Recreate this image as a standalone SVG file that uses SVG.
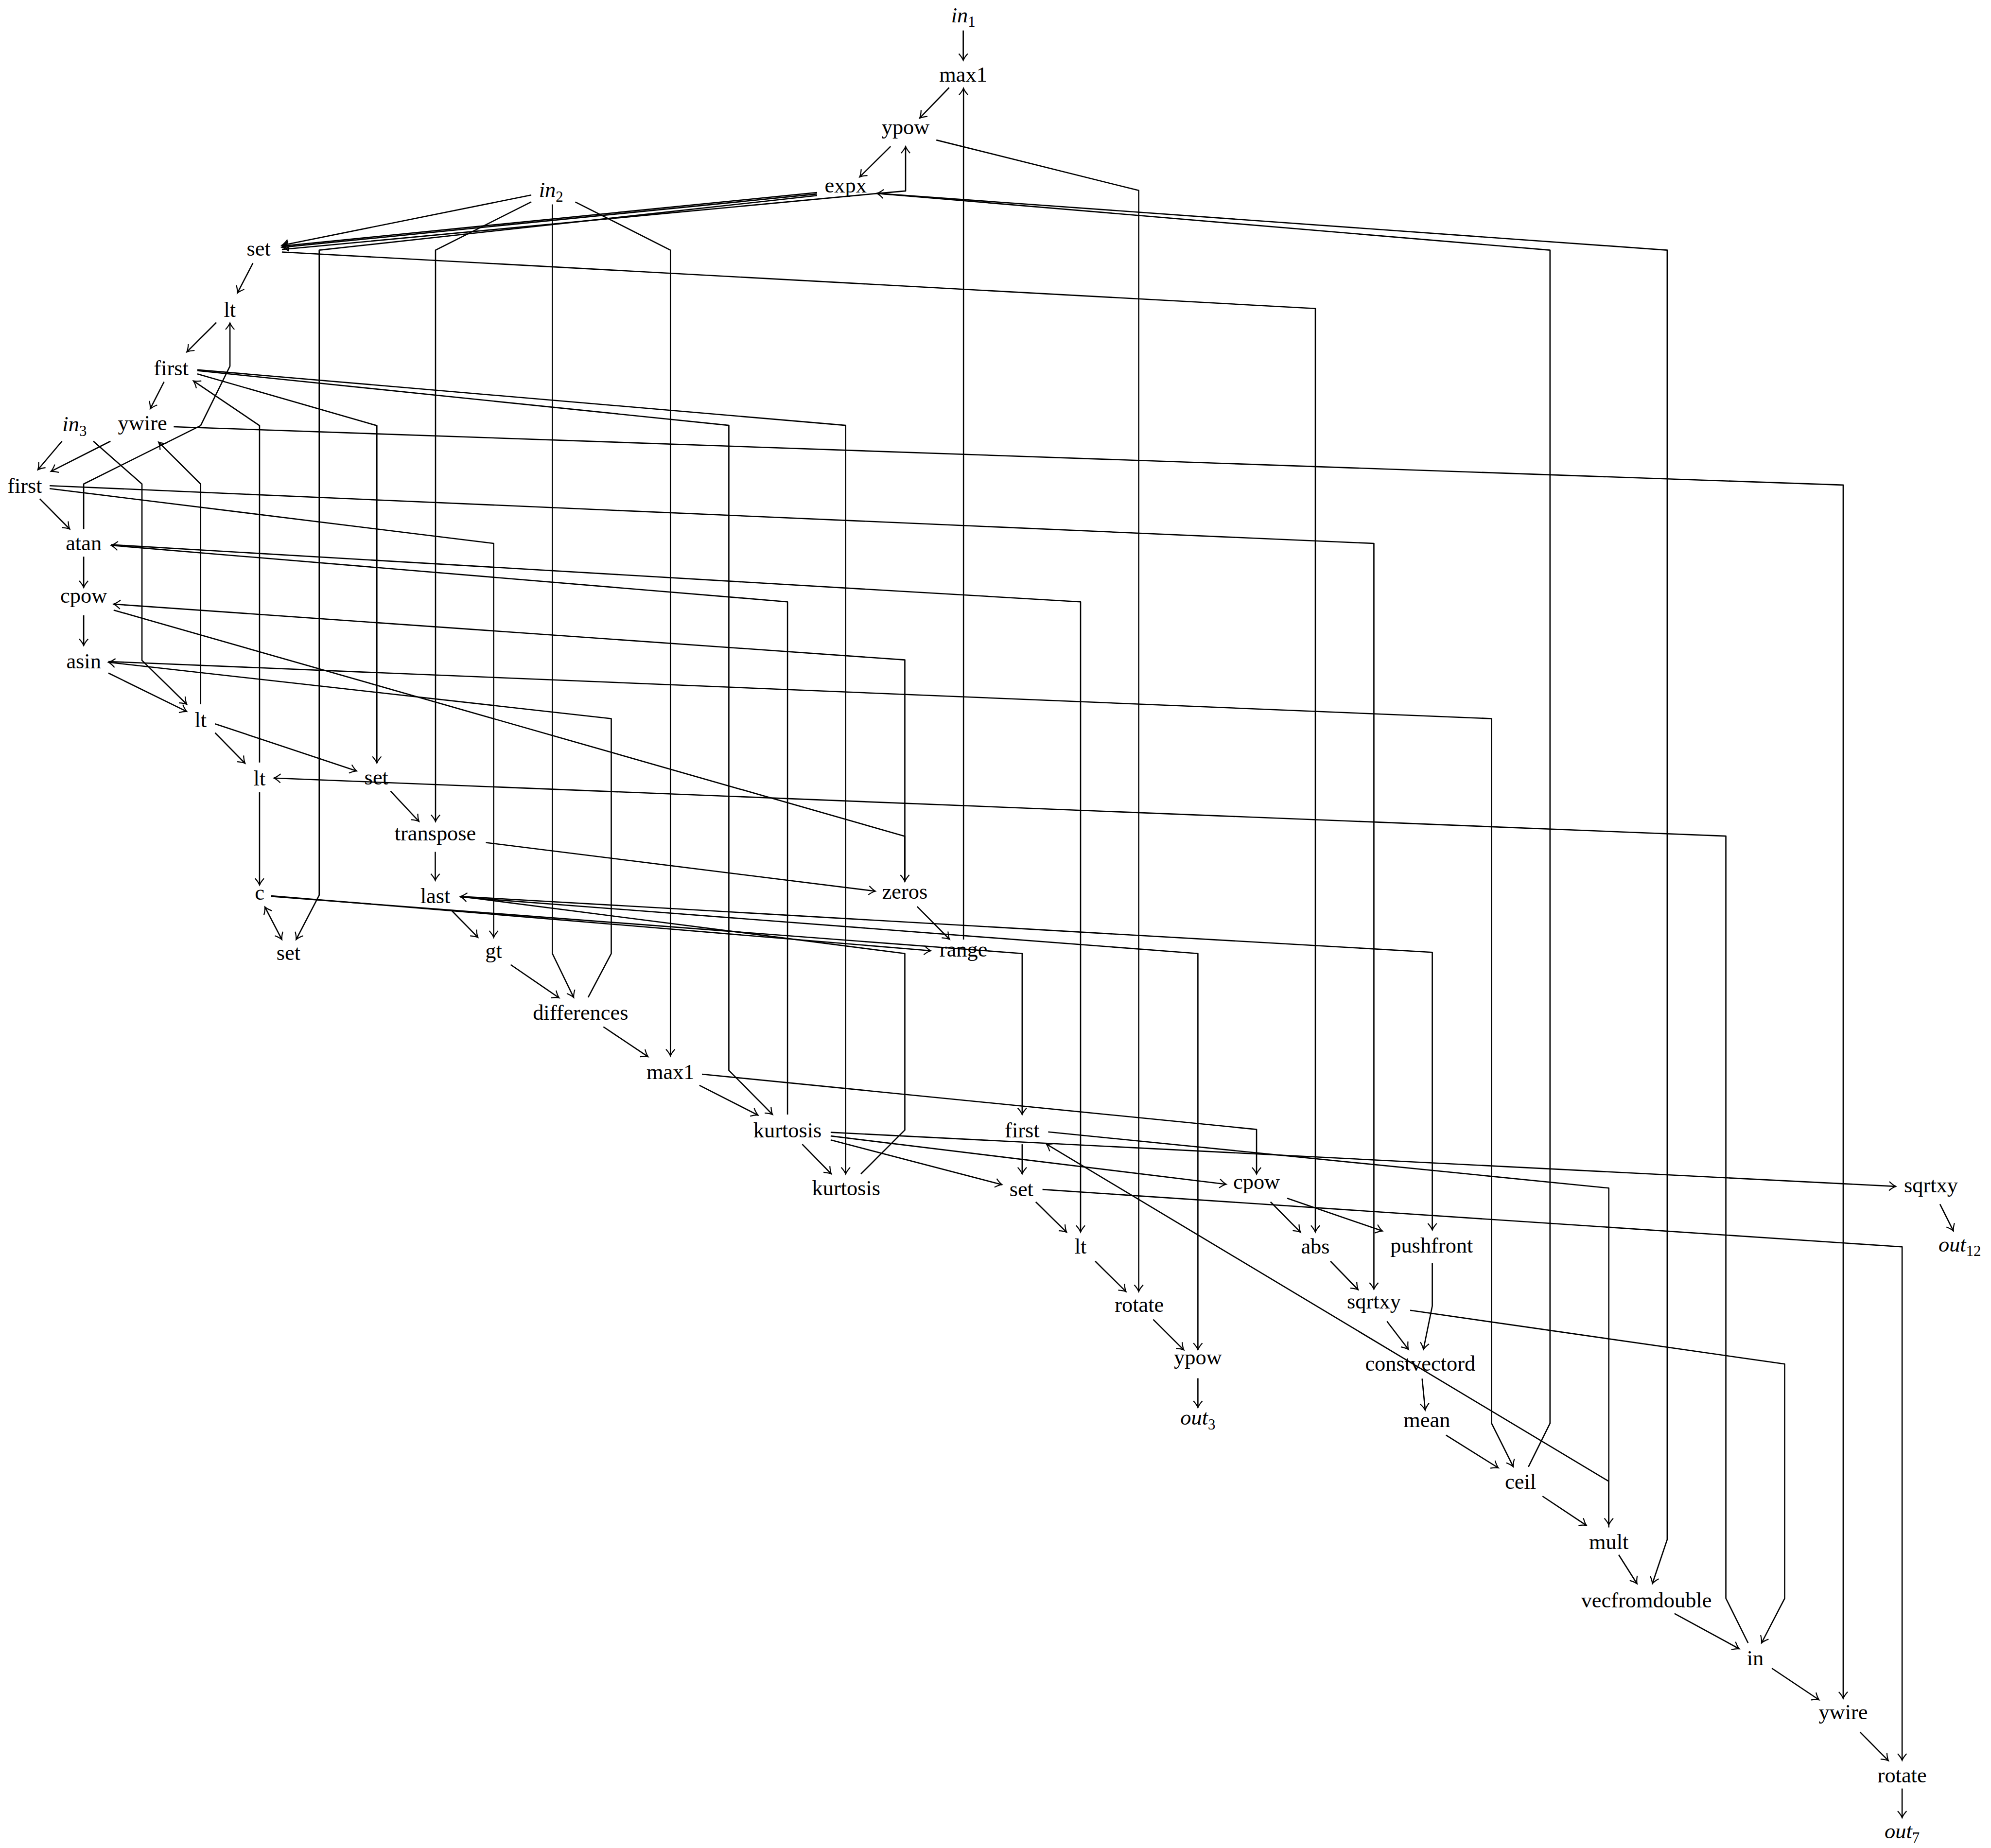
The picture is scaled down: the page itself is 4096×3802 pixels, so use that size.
<svg xmlns="http://www.w3.org/2000/svg" width="4096" height="3802" viewBox="0 0 4096 3802">
<defs>
<style>
.e{fill:none;stroke:#000;stroke-width:1;stroke-linejoin:round;marker-end:url(#ah)}
.b{marker-start:url(#ahs)}
.n{font-family:"Liberation Serif","DejaVu Serif",serif;font-size:17px;text-anchor:middle;fill:#000}
.i{font-style:italic}
.s{font-size:11.8px;font-style:normal}
</style>
<marker id="ah" markerUnits="userSpaceOnUse" orient="auto" markerWidth="12" markerHeight="12" refX="0" refY="0" style="overflow:visible"><path d="M-5.2,-3.5 Q-2.3,-0.9 0,0 Q-2.3,0.9 -5.2,3.5" fill="none" stroke="#000" stroke-width="0.85"/></marker>
<marker id="ahs" markerUnits="userSpaceOnUse" orient="auto-start-reverse" markerWidth="12" markerHeight="12" refX="0" refY="0" style="overflow:visible"><path d="M-5.2,-3.5 Q-2.3,-0.9 0,0 Q-2.3,0.9 -5.2,3.5" fill="none" stroke="#000" stroke-width="0.85"/></marker>
</defs>
<rect width="4096" height="3802" fill="#fff"/>
<g transform="scale(2.61224)">
<g id="connectors">
<polyline class="e" points="758.6,24 758.6,47.5"/>
<polyline class="e" points="747.5,69 724.3,93"/>
<polyline class="e" points="701.4,115.3 677,139.4"/>
<polyline class="e" points="737.4,110.3 896.8,150 896.8,1017.2"/>
<polyline class="e" points="758.8,740 758.8,69.5"/>
<polyline class="e" points="222,196.5 689.4,152.5 713.2,150.4 713.2,115.4"/>
<polyline class="e" points="1203.7,1155.3 1220.7,1121 1220.7,197 690.5,152.3"/>
<polyline class="e" points="690.5,152.3 1313,197 1313,1212.5 1301.3,1247.3"/>
<polyline class="e" points="643.5,154 251.4,197 251.4,705 233.2,740"/>
<polyline class="e" points="643.5,151.6 222,193.8"/>
<polyline class="e" points="643.5,152.8 222,194.8"/>
<polyline class="e" points="418.4,153.6 222,193.2"/>
<polyline class="e" points="418.4,159 343,197 343,647"/>
<polyline class="e" points="435,161 435,751 451.8,785.6"/>
<polyline class="e" points="453.1,159.1 528,197 528,831.6"/>
<polyline class="e" points="199.2,207.2 186.9,230.9"/>
<polyline class="e" points="222,198.5 1035.9,243 1035.9,970.4"/>
<polyline class="e" points="170.4,254 147.1,277.2"/>
<polyline class="e" points="65.9,416.7 65.9,381.2 158,335.2 181.1,288.4 181.1,254.3"/>
<polyline class="e" points="129.2,300.7 118.3,322"/>
<polyline class="e" points="155.4,294.5 296.8,335.2 296.8,601"/>
<polyline class="e" points="155.4,291.9 574,335 574,843 608.4,877.8"/>
<polyline class="e" points="155.4,291.2 666,335 666,924.6"/>
<polyline class="e" points="204.4,600.5 204.4,335.2 152.3,300"/>
<polyline class="e" points="87,347.5 40.1,371.3"/>
<polyline class="e" points="136.8,336.1 1451.6,382 1451.6,1337.7"/>
<polyline class="e" points="158,554.7 158,381.2 124.9,348.2"/>
<polyline class="e" points="48.8,347.5 29.8,370"/>
<polyline class="e" points="73.5,347.5 111.8,381.2 111.8,520.1 147.1,554.7"/>
<polyline class="e" points="31.3,392.8 54.9,416.7"/>
<polyline class="e" points="39.1,384.8 388.8,428 388.8,738.3"/>
<polyline class="e" points="39.1,382.5 1082,428 1082,1015.4"/>
<polyline class="e" points="65.9,438.4 65.9,462.7"/>
<polyline class="e" points="87.5,429 851,474 851,970.4"/>
<polyline class="e" points="620.2,877.8 620.2,474 87.5,429.5"/>
<polyline class="e" points="65.9,484.6 65.9,508.4"/>
<polyline class="e" points="712.6,694 712.6,519.7 89.5,475.8"/>
<polyline class="e" points="89.5,480.5 712.6,658.6 712.6,694.3"/>
<polyline class="e" points="85.4,530.1 147.1,560.4"/>
<polyline class="e" points="85.4,521 1174.7,566 1174.7,1121 1191.8,1155.2"/>
<polyline class="e" points="463.2,785.5 481.4,751 481.4,566 85.4,521.6"/>
<polyline class="e" points="169.4,577.2 193,601.2"/>
<polyline class="e" points="169.4,570.1 280.9,607.2"/>
<polyline class="e" points="204.4,624 204.4,697"/>
<polyline class="e" points="1376.7,1294 1359.2,1258.8 1359.2,658.5 215.7,612.8"/>
<polyline class="e" points="307.6,623.1 330,647"/>
<polyline class="e" points="342.8,670.9 342.8,693.4"/>
<polyline class="e" points="382.6,663.6 689.4,701.9"/>
<polyline class="e b" points="208.6,714.3 222,740"/>
<polyline class="e" points="355.6,717 376.4,738.3"/>
<polyline class="e" points="213.6,705.5 733,748.8"/>
<polyline class="e" points="213.6,706 805,751 805,877.8"/>
<polyline class="e" points="362.5,706 1128,750 1128,968.7"/>
<polyline class="e" points="362.5,706.5 943.4,751 943.4,1063"/>
<polyline class="e" points="678,924.6 712.6,890 712.6,751 362.5,706"/>
<polyline class="e" points="722.3,714 747.8,739.8"/>
<polyline class="e" points="402.2,759.8 440.3,785.9"/>
<polyline class="e" points="475.2,808.7 510.4,832.3"/>
<polyline class="e" points="550.8,854.8 597,878.3"/>
<polyline class="e" points="552.8,846 989.6,889.5 989.6,924.7"/>
<polyline class="e" points="631.8,901.2 654.7,924.6"/>
<polyline class="e" points="654.2,897.8 789.1,933"/>
<polyline class="e" points="654.2,891.8 1493,934.4"/>
<polyline class="e" points="654.2,894.7 965.7,932.7"/>
<polyline class="e" points="805,901.2 805,924.6"/>
<polyline class="e" points="825.5,891.5 1267,935.7 1267,1201"/>
<polyline class="e" points="1267,1203 1267,1166.7 824,901"/>
<polyline class="e" points="815.7,946.6 840,970.5"/>
<polyline class="e" points="821,936.8 1498,982 1498,1386.4"/>
<polyline class="e" points="1000.6,946.6 1024.2,970.5"/>
<polyline class="e" points="1013.7,943.7 1088.7,969.5"/>
<polyline class="e" points="1527.8,948.4 1538.4,969.5"/>
<polyline class="e" points="862.5,993.3 886.8,1017.3"/>
<polyline class="e" points="1047.8,993.3 1069.6,1015.8"/>
<polyline class="e" points="1128,994.8 1128,1028.5 1121,1062.8"/>
<polyline class="e" points="908.2,1039.2 932.3,1063.2"/>
<polyline class="e" points="1092.3,1040.7 1109.2,1062.8"/>
<polyline class="e" points="1110.6,1032 1405.5,1074.3 1405.5,1258.9 1387.3,1294"/>
<polyline class="e" points="943.4,1085.5 943.4,1108.6"/>
<polyline class="e" points="1120,1085.8 1122.4,1110.6"/>
<polyline class="e" points="1138.8,1130.3 1180,1156.1"/>
<polyline class="e" points="1214.8,1178.4 1249.4,1201.4"/>
<polyline class="e" points="1274.8,1224.5 1289.2,1247.3"/>
<polyline class="e" points="1318.7,1270.8 1369.7,1298.6"/>
<polyline class="e" points="1395.4,1313.9 1432.6,1338.8"/>
<polyline class="e" points="1464.9,1364.2 1487.2,1386.7"/>
<polyline class="e" points="1498,1408.6 1498,1431.6"/>
</g>
<g id="nodes">
<g id="in1"><text class="n" x="758.6" y="17.5"><tspan class="i">in</tspan><tspan class="s" dy="3.5">1</tspan></text></g>
<g id="max1_a"><text class="n" x="758.6" y="64.5">max1</text></g>
<g id="ypow_a"><text class="n" x="713.2" y="105.7">ypow</text></g>
<g id="expx"><text class="n" x="666" y="151.7">expx</text></g>
<g id="in2"><text class="n" x="434" y="155.2"><tspan class="i">in</tspan><tspan class="s" dy="3.5">2</tspan></text></g>
<g id="set_a"><text class="n" x="203.7" y="201.5">set</text></g>
<g id="lt_a"><text class="n" x="181" y="249.7">lt</text></g>
<g id="first_a"><text class="n" x="134.8" y="295.4">first</text></g>
<g id="in3"><text class="n" x="58.7" y="339.7"><tspan class="i">in</tspan><tspan class="s" dy="3.5">3</tspan></text></g>
<g id="ywire_a"><text class="n" x="112.2" y="338.7">ywire</text></g>
<g id="first_b"><text class="n" x="19.5" y="388.2">first</text></g>
<g id="atan"><text class="n" x="65.9" y="433.5">atan</text></g>
<g id="cpow_a"><text class="n" x="65.9" y="474.7">cpow</text></g>
<g id="asin"><text class="n" x="65.9" y="526.2">asin</text></g>
<g id="lt_b"><text class="n" x="158" y="572.7">lt</text></g>
<g id="lt_c"><text class="n" x="204.4" y="618.5">lt</text></g>
<g id="set_b"><text class="n" x="296.4" y="617.8">set</text></g>
<g id="transpose"><text class="n" x="342.8" y="661.7">transpose</text></g>
<g id="zeros"><text class="n" x="712.6" y="707.8">zeros</text></g>
<g id="c"><text class="n" x="204.5" y="708.4">c</text></g>
<g id="last"><text class="n" x="342.8" y="711.4">last</text></g>
<g id="set_c"><text class="n" x="227.2" y="756">set</text></g>
<g id="gt"><text class="n" x="388.8" y="754.7">gt</text></g>
<g id="range"><text class="n" x="758.8" y="753.2">range</text></g>
<g id="differences"><text class="n" x="457.2" y="803.2">differences</text></g>
<g id="max1_b"><text class="n" x="528" y="849.7">max1</text></g>
<g id="kurtosis_a"><text class="n" x="620.2" y="895.6">kurtosis</text></g>
<g id="first_c"><text class="n" x="805" y="895.6">first</text></g>
<g id="kurtosis_b"><text class="n" x="666.4" y="941.4">kurtosis</text></g>
<g id="set_d"><text class="n" x="804.4" y="942.2">set</text></g>
<g id="cpow_b"><text class="n" x="989.6" y="936.2">cpow</text></g>
<g id="sqrtxy_a"><text class="n" x="1520.7" y="939.2">sqrtxy</text></g>
<g id="out12"><text class="n" x="1543.4" y="985.7"><tspan class="i">out</tspan><tspan class="s" dy="3.5">12</tspan></text></g>
<g id="lt_d"><text class="n" x="851" y="987.4">lt</text></g>
<g id="abs"><text class="n" x="1035.9" y="987.4">abs</text></g>
<g id="pushfront"><text class="n" x="1127.5" y="986.6">pushfront</text></g>
<g id="rotate_a"><text class="n" x="897.2" y="1033.2">rotate</text></g>
<g id="sqrtxy_b"><text class="n" x="1082" y="1030.7">sqrtxy</text></g>
<g id="ypow_b"><text class="n" x="943.4" y="1074.6">ypow</text></g>
<g id="constvectord"><text class="n" x="1118.5" y="1079.6">constvectord</text></g>
<g id="out3"><text class="n" x="943.4" y="1122.2"><tspan class="i">out</tspan><tspan class="s" dy="3.5">3</tspan></text></g>
<g id="mean"><text class="n" x="1123.7" y="1124">mean</text></g>
<g id="ceil"><text class="n" x="1197.5" y="1172.4">ceil</text></g>
<g id="mult"><text class="n" x="1267" y="1220.1">mult</text></g>
<g id="vecfromdouble"><text class="n" x="1296.6" y="1265.9">vecfromdouble</text></g>
<g id="in_n"><text class="n" x="1382.3" y="1311.6">in</text></g>
<g id="ywire_b"><text class="n" x="1451.6" y="1354.2">ywire</text></g>
<g id="rotate_b"><text class="n" x="1498" y="1403.9">rotate</text></g>
<g id="out7"><text class="n" x="1498" y="1447.7"><tspan class="i">out</tspan><tspan class="s" dy="3.5">7</tspan></text></g>
</g>
</g>
</svg>
